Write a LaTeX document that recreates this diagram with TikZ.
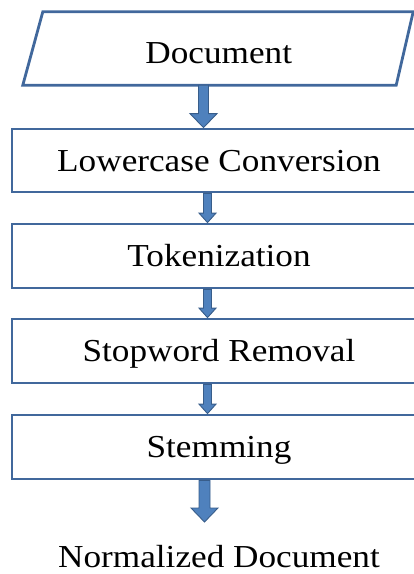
\documentclass[tikz,border=0pt]{standalone}
\usepackage{fontspec}
\setmainfont{Liberation Serif}
\usetikzlibrary{calc}

\definecolor{frameblue}{HTML}{41689C}
\definecolor{arrowfill}{HTML}{4F81BD}
\definecolor{arrowedge}{HTML}{385D8A}

% Block arrow pointing down: start, end, shaft half-width, head half-width, head length
\newcommand\blockarrow[5]{%
  \filldraw[flowarrow] let \p1=(#1), \p2=(#2) in
    (\x1-#3,\y1) -- (\x1-#3,\y2+#5) -- (\x1-#4,\y2+#5) -- (\x1,\y2)
    -- (\x1+#4,\y2+#5) -- (\x1+#3,\y2+#5) -- (\x1+#3,\y1) -- cycle;}

\tikzset{
  labeltext/.style={font=\fontsize{32}{38}\selectfont, inner sep=0pt,
    text height=21pt, text depth=0pt},
  stepbox/.style={labeltext, draw=frameblue, line width=2.8pt,
    minimum width=414pt},
  framepath/.style={draw=frameblue, line width=2.8pt, line join=miter},
  flowarrow/.style={fill=arrowfill, draw=arrowedge, line width=0.9pt, line join=miter},
}
\newcommand\wide[1]{\scalebox{1.1}[1]{#1}}

\begin{document}
\begin{tikzpicture}[x=1pt, y=-1pt]
  \useasboundingbox (0,0) rectangle (414,574);
  \clip (0,0) rectangle (414,574);

  % input document (parallelogram)
  \node[labeltext, text height=29.5pt, minimum width=371.5pt, minimum height=73pt]
    (doc) at (218.75,48.5) {\wide{Document}};
  \draw[framepath] ([xshift=-10pt]doc.south west) -- ([xshift=10pt]doc.north west)
    -- ([xshift=8.5pt]doc.north east) -- ([xshift=-8.5pt]doc.south east) -- cycle;

  % processing steps
  \node[stepbox, minimum height=63pt] (lc)  at (219,160.5) {\wide{Lowercase Conversion}};
  \node[stepbox, minimum height=64pt] (tok) at (219,256)   {\wide{Tokenization}};
  \node[stepbox, minimum height=64pt] (sw)  at (219,351)   {\wide{Stopword Removal}};
  \node[stepbox, minimum height=64pt] (st)  at (219,447)   {\wide{Stemming}};

  % output
  \node[labeltext] (out) at (219,557) {\wide{Normalized Document}};

  % arrow columns
  \coordinate (bigcol) at (203.5,0);
  \coordinate (smallcol) at (207.5,0);
  \coordinate (outtip) at (204.5,522);

  \blockarrow{doc.south -| bigcol}{lc.north -| bigcol}{5pt}{13.5pt}{14pt}
  \blockarrow{lc.south -| smallcol}{tok.north -| smallcol}{4pt}{8.5pt}{9.5pt}
  \blockarrow{tok.south -| smallcol}{sw.north -| smallcol}{4pt}{8.5pt}{9.5pt}
  \blockarrow{sw.south -| smallcol}{st.north -| smallcol}{4pt}{8.5pt}{9.5pt}
  \blockarrow{st.south -| outtip}{outtip}{5.5pt}{13.5pt}{14pt}
\end{tikzpicture}
\end{document}
